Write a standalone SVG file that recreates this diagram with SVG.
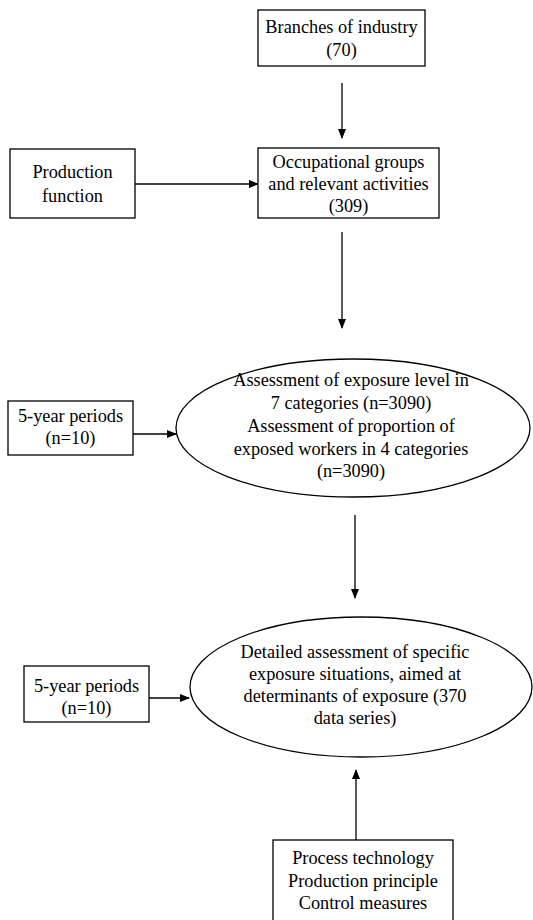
<svg xmlns="http://www.w3.org/2000/svg" width="533" height="920" viewBox="0 0 533 920">
<defs>
<marker id="ah" markerWidth="10" markerHeight="8" refX="9" refY="4" orient="auto" markerUnits="userSpaceOnUse">
<path d="M0,0 L10,4 L0,8 Z" fill="#000"/>
</marker>
</defs>
<rect width="533" height="920" fill="#fff"/>
<g id="connectors" stroke="#000" stroke-width="1.3" fill="none" marker-end="url(#ah)">
<line x1="342" y1="83" x2="342" y2="138"/>
<line x1="135" y1="184" x2="258" y2="184"/>
<line x1="342" y1="232" x2="342" y2="328"/>
<line x1="133" y1="434" x2="176" y2="434"/>
<line x1="355" y1="515" x2="355" y2="598"/>
<line x1="149" y1="698" x2="189" y2="698"/>
<line x1="356" y1="840" x2="356" y2="770"/>
</g>
<g id="branches">
<rect x="258" y="10" width="167" height="56" fill="#fff" stroke="#000" stroke-width="1.3"/>
<text font-family="Liberation Serif" font-size="18.3" text-anchor="middle" x="341.5" y="33">Branches of industry</text>
<text font-family="Liberation Serif" font-size="18.3" text-anchor="middle" x="341.5" y="56">(70)</text>
</g>
<g id="occupational">
<rect x="258" y="148" width="181" height="70" fill="#fff" stroke="#000" stroke-width="1.3"/>
<text font-family="Liberation Serif" font-size="18.3" text-anchor="middle" x="348.5" y="168">Occupational groups</text>
<text font-family="Liberation Serif" font-size="18.3" text-anchor="middle" x="348.5" y="190">and relevant activities</text>
<text font-family="Liberation Serif" font-size="18.3" text-anchor="middle" x="348.5" y="212">(309)</text>
</g>
<g id="production">
<rect x="10" y="149" width="125" height="69" fill="#fff" stroke="#000" stroke-width="1.3"/>
<text font-family="Liberation Serif" font-size="18.3" text-anchor="middle" x="72.5" y="178">Production</text>
<text font-family="Liberation Serif" font-size="18.3" text-anchor="middle" x="72.5" y="202">function</text>
</g>
<g id="periods1">
<rect x="8" y="401" width="125" height="54" fill="#fff" stroke="#000" stroke-width="1.3"/>
<text font-family="Liberation Serif" font-size="18.3" text-anchor="middle" x="70.5" y="422">5-year periods</text>
<text font-family="Liberation Serif" font-size="18.3" text-anchor="middle" x="70.5" y="444">(n=10)</text>
</g>
<g id="assessment">
<ellipse cx="353" cy="428" rx="177" ry="69" fill="#fff" stroke="#000" stroke-width="1.3"/>
<text font-family="Liberation Serif" font-size="18.3" text-anchor="middle" x="351" y="386">Assessment of exposure level in</text>
<text font-family="Liberation Serif" font-size="18.3" text-anchor="middle" x="351" y="409">7 categories (n=3090)</text>
<text font-family="Liberation Serif" font-size="18.3" text-anchor="middle" x="351" y="432">Assessment of proportion of</text>
<text font-family="Liberation Serif" font-size="18.3" text-anchor="middle" x="351" y="455">exposed workers in 4 categories</text>
<text font-family="Liberation Serif" font-size="18.3" text-anchor="middle" x="351" y="477">(n=3090)</text>
</g>
<g id="periods2">
<rect x="24" y="666" width="125" height="56" fill="#fff" stroke="#000" stroke-width="1.3"/>
<text font-family="Liberation Serif" font-size="18.3" text-anchor="middle" x="86.5" y="692">5-year periods</text>
<text font-family="Liberation Serif" font-size="18.3" text-anchor="middle" x="86.5" y="714">(n=10)</text>
</g>
<g id="detailed">
<ellipse cx="361" cy="687" rx="171" ry="70" fill="#fff" stroke="#000" stroke-width="1.3"/>
<text font-family="Liberation Serif" font-size="18.3" text-anchor="middle" x="355" y="658">Detailed assessment of specific</text>
<text font-family="Liberation Serif" font-size="18.3" text-anchor="middle" x="355" y="680">exposure situations, aimed at</text>
<text font-family="Liberation Serif" font-size="18.3" text-anchor="middle" x="355" y="702">determinants of exposure (370</text>
<text font-family="Liberation Serif" font-size="18.3" text-anchor="middle" x="355" y="724">data series)</text>
</g>
<g id="process">
<rect x="273" y="840" width="180" height="90" fill="#fff" stroke="#000" stroke-width="1.3"/>
<text font-family="Liberation Serif" font-size="18.3" text-anchor="middle" x="363" y="864">Process technology</text>
<text font-family="Liberation Serif" font-size="18.3" text-anchor="middle" x="363" y="887">Production principle</text>
<text font-family="Liberation Serif" font-size="18.3" text-anchor="middle" x="363" y="909">Control measures</text>
</g>
</svg>
